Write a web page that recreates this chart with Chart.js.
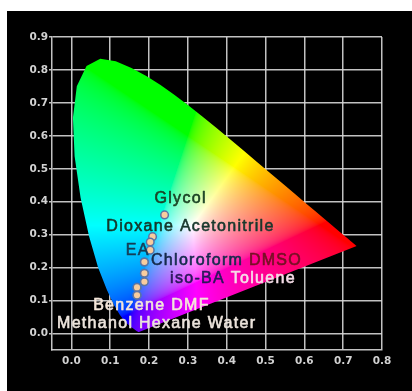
<!DOCTYPE html>
<html>
<head>
<meta charset="utf-8">
<script src="https://cdn.jsdelivr.net/npm/chart.js@4.4.1/dist/chart.umd.min.js"></script>
<style>
  html, body { margin: 0; padding: 0; background: #fff; }
  #wrap { position: absolute; left: 7px; top: 11px; width: 405px; height: 380px; background: #000; }
</style>
</head>
<body>
<div id="wrap"><canvas id="myChart"></canvas></div>
<script>
// solvents and their CIE 1931 (x, y) coordinates
const solvents = ['Glycol', 'Dioxane', 'Acetonitrile', 'EA', 'Chloroform', 'DMSO', 'iso-BA',
                  'Toluene', 'Benzene', 'DMF', 'Methanol', 'Hexane', 'Water'];
const cieX = [0.240, 0.209, 0.203, 0.203, 0.188, 0.188, 0.188, 0.188, 0.188, 0.169, 0.169, 0.169, 0.169];
const cieY = [0.360, 0.294, 0.278, 0.253, 0.217, 0.217, 0.183, 0.183, 0.157, 0.140, 0.140, 0.116, 0.116];

// spectral locus (380 - 700 nm), closed by the line of purples
const locusX = [0.1741, 0.1740, 0.1738, 0.1736, 0.1733, 0.1730, 0.1726, 0.1721, 0.1714, 0.1703,
                0.1689, 0.1669, 0.1644, 0.1611, 0.1566, 0.1510, 0.1440, 0.1355, 0.1241, 0.1096,
                0.0913, 0.0687, 0.0454, 0.0235, 0.0082, 0.0039, 0.0139, 0.0389, 0.0743, 0.1142,
                0.1547, 0.1929, 0.2296, 0.2658, 0.3016, 0.3373, 0.3731, 0.4087, 0.4441, 0.4788,
                0.5125, 0.5448, 0.5752, 0.6029, 0.6270, 0.6482, 0.6658, 0.6801, 0.6915, 0.7006,
                0.7079, 0.7140, 0.7190, 0.7230, 0.7260, 0.7300, 0.7320, 0.7334, 0.7347];
const locusY = [0.0050, 0.0050, 0.0049, 0.0049, 0.0048, 0.0048, 0.0048, 0.0048, 0.0051, 0.0058,
                0.0069, 0.0086, 0.0109, 0.0138, 0.0177, 0.0227, 0.0297, 0.0399, 0.0578, 0.0868,
                0.1327, 0.2007, 0.2950, 0.4127, 0.5384, 0.6548, 0.7502, 0.8120, 0.8338, 0.8262,
                0.8059, 0.7816, 0.7543, 0.7243, 0.6923, 0.6589, 0.6245, 0.5896, 0.5547, 0.5202,
                0.4866, 0.4544, 0.4242, 0.3965, 0.3725, 0.3514, 0.3340, 0.3197, 0.3083, 0.2993,
                0.2920, 0.2859, 0.2809, 0.2770, 0.2740, 0.2700, 0.2680, 0.2666, 0.2653];

const xTicks = [0.0, 0.1, 0.2, 0.3, 0.4, 0.5, 0.6, 0.7, 0.8];
const yTicks = [0.0, 0.1, 0.2, 0.3, 0.4, 0.5, 0.6, 0.7, 0.8, 0.9];

// label placement (left edge, middle), in chart units
const labelRows = [
  { x: 0.214, y: 0.411, parts: [['Glycol', '#1a4224']] },
  { x: 0.090, y: 0.326, parts: [['Dioxane', '#15372a'], [' Acetonitrile', '#17372c']] },
  { x: 0.140, y: 0.253, parts: [['EA', '#163c56']] },
  { x: 0.205, y: 0.222, parts: [['Chloroform', '#152a4c'], [' DMSO', '#761024']] },
  { x: 0.254, y: 0.167, parts: [['iso-BA', '#2a185a'], [' Toluene', '#f6dde8']] },
  { x: 0.056, y: 0.086, parts: [['Benzene DMF', '#f4e6da']] },
  { x: -0.037, y: 0.031, parts: [['Methanol Hexane Water', '#ece4dc']] }
];

function xyToRgb(x, y) {
  const X = x / y, Z = (1 - x - y) / y;
  let r = 3.2406 * X - 1.5372 - 0.4986 * Z;
  let g = -0.9689 * X + 1.8758 + 0.0415 * Z;
  let b = 0.0557 * X - 0.2040 + 1.0570 * Z;
  r = Math.max(r, 0); g = Math.max(g, 0); b = Math.max(b, 0);
  const m = Math.max(r, g, b) || 1;
  const gam = v => {
    v = v / m;
    return 255 * (v <= 0.0031308 ? 12.92 * v : 1.055 * Math.pow(v, 1 / 2.4) - 0.055);
  };
  return [gam(r), gam(g), gam(b)];
}

const horseshoe = {
  id: 'horseshoe',
  beforeDatasetsDraw(chart) {
    const { ctx, chartArea: a, scales: { x, y } } = chart;
    const w = Math.ceil(a.right - a.left), h = Math.ceil(a.bottom - a.top);
    const off = document.createElement('canvas');
    off.width = w; off.height = h;
    const octx = off.getContext('2d');
    const img = octx.createImageData(w, h);
    for (let j = 0; j < h; j++) {
      const cy = y.getValueForPixel(a.top + j + 0.5);
      for (let i = 0; i < w; i++) {
        const cx = x.getValueForPixel(a.left + i + 0.5);
        const k = (j * w + i) * 4;
        if (cy <= 0.001) { img.data[k + 3] = 0; continue; }
        const c = xyToRgb(cx, cy);
        img.data[k] = c[0]; img.data[k + 1] = c[1]; img.data[k + 2] = c[2]; img.data[k + 3] = 255;
      }
    }
    octx.putImageData(img, 0, 0);
    ctx.save();
    ctx.beginPath();
    locusX.forEach((v, k) => {
      const px = x.getPixelForValue(v), py = y.getPixelForValue(locusY[k]);
      if (k === 0) ctx.moveTo(px, py); else ctx.lineTo(px, py);
    });
    ctx.closePath();
    ctx.clip();
    ctx.drawImage(off, a.left, a.top);
    ctx.restore();
  }
};

const solventLabels = {
  id: 'solventLabels',
  afterDatasetsDraw(chart) {
    const { ctx, scales: { x, y } } = chart;
    ctx.save();
    ctx.font = '16px "Liberation Sans", Arial, sans-serif';
    if ('letterSpacing' in ctx) ctx.letterSpacing = '1.3px';
    ctx.textBaseline = 'middle';
    ctx.textAlign = 'left';
    ctx.lineWidth = 0.6;
    ctx.lineJoin = 'round';
    labelRows.forEach(row => {
      let px = x.getPixelForValue(row.x);
      const py = y.getPixelForValue(row.y);
      row.parts.forEach(([txt, col]) => {
        ctx.fillStyle = col;
        ctx.strokeStyle = col;
        ctx.fillText(txt, px, py);
        ctx.strokeText(txt, px, py);
        px += ctx.measureText(txt).width;
      });
    });
    ctx.restore();
  }
};

const gridColor = 'rgba(215,215,215,0.9)';
const tickFont = { family: '"DejaVu Sans", Verdana, sans-serif', size: 10.5, weight: 'bold' };

new Chart(document.getElementById('myChart'), {
  type: 'scatter',
  data: {
    labels: solvents,
    datasets: [{
      label: 'Solvents',
      data: cieX.map((v, i) => ({ x: v, y: cieY[i] })),
      backgroundColor: '#f8cc9e',
      borderColor: '#5a74a6',
      borderWidth: 1.5,
      pointRadius: 3.8
    }]
  },
  options: {
    responsive: true,
    maintainAspectRatio: false,
    animation: false,
    layout: { padding: { top: 26, right: 30, left: 0, bottom: 0 } },
    scales: {
      x: {
        type: 'linear',
        min: -0.05,
        max: 0.8,
        afterBuildTicks: s => { s.ticks = xTicks.map(v => ({ value: v })); },
        afterFit: s => { s.height = 41; },
        grid: { color: gridColor, lineWidth: 1.5, drawTicks: false },
        border: { display: true, color: gridColor, width: 1.5 },
        ticks: { color: '#d2d2d2', font: tickFont, padding: 5, maxRotation: 0, callback: v => v.toFixed(1) }
      },
      y: {
        type: 'linear',
        min: -0.05,
        max: 0.9,
        afterBuildTicks: s => { s.ticks = yTicks.map(v => ({ value: v })); },
        afterFit: s => { s.width = 45; },
        grid: { color: gridColor, lineWidth: 1.5, tickLength: 3 },
        border: { display: true, color: gridColor, width: 1.5 },
        ticks: { color: '#d2d2d2', font: tickFont, padding: 1, callback: v => v.toFixed(1) }
      }
    },
    plugins: {
      legend: { display: false },
      tooltip: { enabled: false },
      title: { display: false }
    }
  },
  plugins: [horseshoe, solventLabels]
});
</script>
</body>
</html>
